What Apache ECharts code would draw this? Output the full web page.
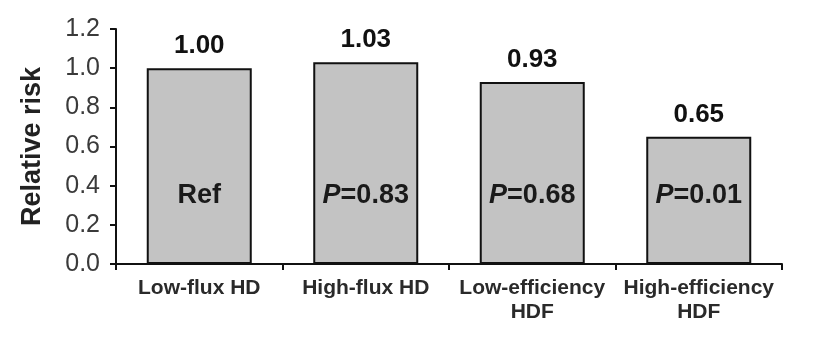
<!DOCTYPE html>
<html>
<head>
<meta charset="utf-8">
<script src="https://cdn.jsdelivr.net/npm/echarts@6/dist/echarts.min.js"></script>
<style>
  html, body { margin: 0; padding: 0; background: #fff; }
  #chart { width: 829px; height: 345px; }
</style>
</head>
<body>
<div id="chart"></div>
<script>
// Relative risk of each dialysis modality vs. low-flux HD
const categories = ['Low-flux HD', 'High-flux HD', 'Low-efficiency\nHDF', 'High-efficiency\nHDF'];
const relativeRisk = [1.00, 1.03, 0.93, 0.65];
const pValues = [null, '0.83', '0.68', '0.01'];
const yTicks = { min: 0, max: 1.2, step: 0.2 };

const font = '"Liberation Sans", Arial, Helvetica, sans-serif';

const chart = echarts.init(document.getElementById('chart'), null, { renderer: 'canvas' });

chart.setOption({
  animation: false,
  backgroundColor: '#ffffff',
  grid: { left: 116, right: 47, top: 29, bottom: 81 },
  xAxis: {
    type: 'category',
    data: categories,
    axisLine: { lineStyle: { color: '#111', width: 2 } },
    axisTick: { show: true, length: 6, lineStyle: { color: '#111', width: 2 } },
    axisLabel: {
      interval: 0,
      margin: 12,
      fontFamily: font,
      fontSize: 21,
      fontWeight: 'bold',
      color: '#2a2a2a',
      lineHeight: 24
    }
  },
  yAxis: {
    type: 'value',
    min: yTicks.min,
    max: yTicks.max,
    interval: yTicks.step,
    name: 'Relative risk',
    nameLocation: 'middle',
    nameGap: 70,
    nameTextStyle: { fontFamily: font, fontSize: 27, fontWeight: 'bold', color: '#222' },
    splitLine: { show: false },
    axisLine: { show: true, lineStyle: { color: '#111', width: 2 } },
    axisTick: { show: true, length: 6, lineStyle: { color: '#111', width: 2 } },
    axisLabel: {
      margin: 16,
      fontFamily: font,
      fontSize: 25,
      color: '#3a3a3a',
      formatter: v => v.toFixed(1)
    }
  },
  series: [
    {
      type: 'bar',
      data: relativeRisk,
      barWidth: 105,
      itemStyle: { color: '#c3c3c3', borderColor: '#111', borderWidth: 2 },
      label: {
        show: true,
        position: 'top',
        distance: 9,
        fontFamily: font,
        fontSize: 26,
        fontWeight: 'bold',
        color: '#111',
        formatter: p => p.value.toFixed(2)
      },
      z: 2
    },
    {
      // transparent overlay carrying the in-bar annotations
      type: 'bar',
      data: relativeRisk,
      barWidth: 105,
      barGap: '-100%',
      itemStyle: { color: 'rgba(0,0,0,0)' },
      silent: true,
      label: {
        show: true,
        position: 'insideBottom',
        distance: 55,
        fontFamily: font,
        fontSize: 27,
        fontWeight: 'bold',
        color: '#1a1a1a',
        formatter: p => pValues[p.dataIndex] === null
          ? 'Ref'
          : '{p|P}=' + pValues[p.dataIndex],
        rich: {
          p: { fontFamily: font, fontSize: 27, fontWeight: 'bold', fontStyle: 'italic', color: '#1a1a1a' }
        }
      },
      z: 3
    }
  ]
});
</script>
</body>
</html>
